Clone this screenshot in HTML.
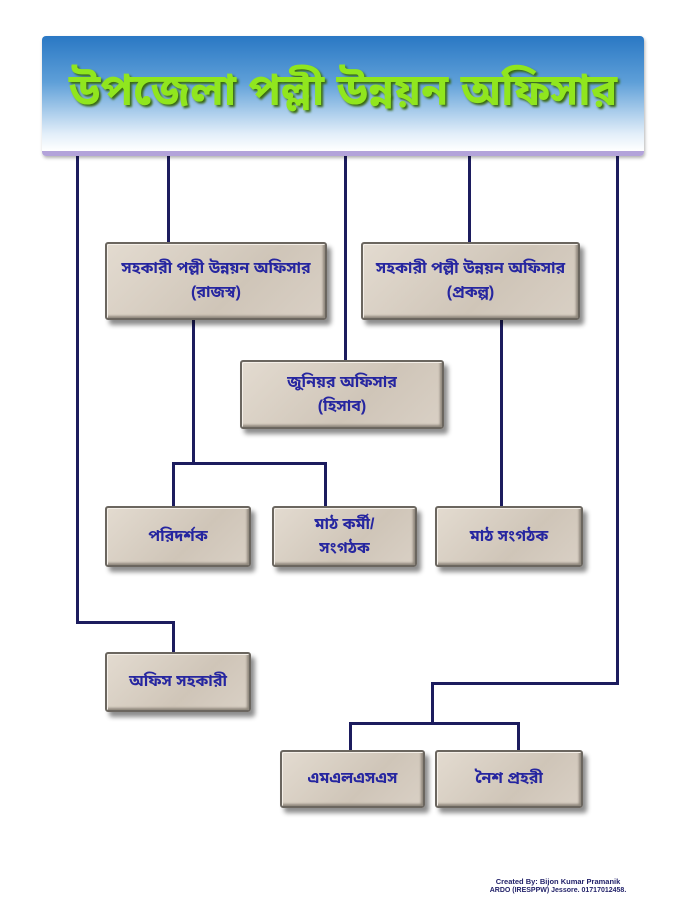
<!DOCTYPE html>
<html><head><meta charset="utf-8"><style>
body{margin:0;width:687px;height:900px;background:#fff;position:relative;overflow:hidden;font-family:"Liberation Sans","Noto Sans Bengali","Lohit Bengali",sans-serif}
.l{position:absolute;background:#1c1c5e}
.b{position:absolute;box-sizing:border-box;background:linear-gradient(135deg,#e3dbd0,#cfc5b8 60%,#d9d0c5);border:2px solid #6b665f;border-radius:3px;box-shadow:4px 5px 5px rgba(0,0,0,.45),inset 1px 1px 0 #f4efe8,inset -2px -2px 2px #8f877c;color:#2626a0;font-weight:bold;font-size:16px;display:flex;align-items:center;justify-content:center;text-align:center;line-height:1.5}
.h{position:absolute;left:42px;top:36px;width:602px;height:120px;box-sizing:border-box;background:linear-gradient(#2a78c4,#5e9fd8 40%,#e2eef9 85%,#fff);border-bottom:5px solid #b3a3da;border-radius:4px;box-shadow:1px 2px 3px rgba(0,0,0,.3);display:flex;align-items:center;justify-content:center;color:#90e61e;font-size:44px;font-weight:bold;text-shadow:2px 2px 2px #3a6a10}
.c{position:absolute;text-align:center;color:#23236a;font-size:7px;font-weight:bold}
</style></head><body>
<div class="l" style="left:76px;top:150px;width:3px;height:474px"></div>
<div class="l" style="left:76px;top:621px;width:99px;height:3px"></div>
<div class="l" style="left:172px;top:621px;width:3px;height:32px"></div>
<div class="l" style="left:167px;top:150px;width:3px;height:93px"></div>
<div class="l" style="left:344px;top:150px;width:3px;height:212px"></div>
<div class="l" style="left:468px;top:150px;width:3px;height:93px"></div>
<div class="l" style="left:616px;top:150px;width:3px;height:535px"></div>
<div class="l" style="left:431px;top:682px;width:188px;height:3px"></div>
<div class="l" style="left:431px;top:682px;width:3px;height:43px"></div>
<div class="l" style="left:349px;top:722px;width:171px;height:3px"></div>
<div class="l" style="left:349px;top:722px;width:3px;height:29px"></div>
<div class="l" style="left:517px;top:722px;width:3px;height:29px"></div>
<div class="l" style="left:192px;top:318px;width:3px;height:146px"></div>
<div class="l" style="left:172px;top:462px;width:155px;height:3px"></div>
<div class="l" style="left:172px;top:462px;width:3px;height:45px"></div>
<div class="l" style="left:324px;top:462px;width:3px;height:45px"></div>
<div class="l" style="left:500px;top:318px;width:3px;height:189px"></div>
<div class="h">উপজেলা পল্লী উন্নয়ন অফিসার</div>
<div class="b" style="left:105px;top:242px;width:222px;height:78px">সহকারী পল্লী উন্নয়ন অফিসার<br>(রাজস্ব)</div>
<div class="b" style="left:361px;top:242px;width:219px;height:78px">সহকারী পল্লী উন্নয়ন অফিসার<br>(প্রকল্প)</div>
<div class="b" style="left:240px;top:360px;width:204px;height:69px">জুনিয়র অফিসার<br>(হিসাব)</div>
<div class="b" style="left:105px;top:506px;width:146px;height:61px">পরিদর্শক</div>
<div class="b" style="left:272px;top:506px;width:145px;height:61px">মাঠ কর্মী/<br>সংগঠক</div>
<div class="b" style="left:435px;top:506px;width:148px;height:61px">মাঠ সংগঠক</div>
<div class="b" style="left:105px;top:652px;width:146px;height:60px">অফিস সহকারী</div>
<div class="b" style="left:280px;top:750px;width:145px;height:58px">এমএলএসএস</div>
<div class="b" style="left:435px;top:750px;width:148px;height:58px">নৈশ প্রহরী</div>
<div class="c" style="top:877px;left:478px;width:160px;font-size:7.5px">Created By: Bijon Kumar Pramanik</div>
<div class="c" style="top:887px;left:468px;width:180px">ARDO (IRESPPW) Jessore. 01717012458.</div>
</body></html>
